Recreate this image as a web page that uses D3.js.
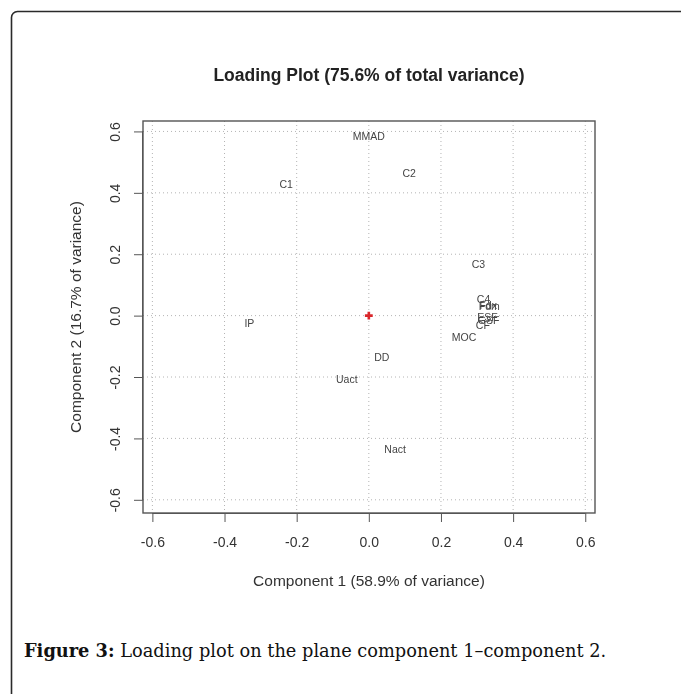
<!DOCTYPE html>
<html><head><meta charset="utf-8">
<script src="https://cdn.jsdelivr.net/npm/d3@7"></script>
<style>body{margin:0;background:#fff}svg{display:block}</style>
</head><body>
<script>
// Variable loadings on the first two principal components
const variables = ["MMAD", "C2", "C1", "C3", "C4", "Fdx", "Fdm", "ESF", "GSF", "CF", "MOC", "IP", "DD", "Uact", "Nact"];
const comp1 = [0.000, 0.112, -0.229, 0.304, 0.318, 0.331, 0.334, 0.329, 0.332, 0.316, 0.264, -0.331, 0.036, -0.061, 0.073];
const comp2 = [0.585, 0.466, 0.430, 0.168, 0.054, 0.036, 0.030, -0.004, -0.014, -0.031, -0.070, -0.025, -0.135, -0.206, -0.435];
const origin = [0, 0];
const xTicks = [-0.6, -0.4, -0.2, 0.0, 0.2, 0.4, 0.6];
const yTicks = [-0.6, -0.4, -0.2, 0.0, 0.2, 0.4, 0.6];
const titleText = "Loading Plot (75.6% of total variance)";
const xTitle = "Component 1 (58.9% of variance)";
const yTitle = "Component 2 (16.7% of variance)";

const W = 681, H = 694;
const frame = {left: 143, right: 595, top: 121, bottom: 513};

const svg = d3.select("body").append("svg").attr("width", W).attr("height", H);

// page panel with rounded corner
svg.append("rect")
  .attr("x", 11.5).attr("y", 11.5).attr("width", 720).attr("height", 720)
  .attr("rx", 6).attr("fill", "#fff").attr("stroke", "#2a2a2a").attr("stroke-width", 1.6);

const defs = svg.append("defs");
defs.append("filter").attr("id", "soft")
  .append("feGaussianBlur").attr("stdDeviation", 0.45);

const x = d3.scaleLinear().domain([-0.626, 0.627]).range([frame.left, frame.right]);
const y = d3.scaleLinear().domain([-0.643, 0.634]).range([frame.bottom, frame.top]);

const g = svg.append("g").attr("filter", "url(#soft)");
const fmt = d => d.toFixed(1);
const sans = "Liberation Sans, Arial, sans-serif";

// dotted grid
g.append("g").selectAll("line").data(xTicks).join("line")
  .attr("x1", d => x(d)).attr("x2", d => x(d))
  .attr("y1", frame.top).attr("y2", frame.bottom)
  .attr("stroke", "#b4b4b4").attr("stroke-width", 1).attr("stroke-dasharray", "1,3");
g.append("g").selectAll("line").data(yTicks).join("line")
  .attr("y1", d => y(d)).attr("y2", d => y(d))
  .attr("x1", frame.left).attr("x2", frame.right)
  .attr("stroke", "#b4b4b4").attr("stroke-width", 1).attr("stroke-dasharray", "1,3");

// frame
g.append("rect")
  .attr("x", frame.left).attr("y", frame.top)
  .attr("width", frame.right - frame.left).attr("height", frame.bottom - frame.top)
  .attr("fill", "none").attr("stroke", "#555").attr("stroke-width", 1.4);

// axes
const xAxis = d3.axisBottom(x).tickValues(xTicks).tickFormat(fmt).tickSize(9).tickPadding(15);
const yAxis = d3.axisLeft(y).tickValues(yTicks).tickFormat(fmt).tickSize(9).tickPadding(10);

const gx = g.append("g").attr("transform", `translate(0,${frame.bottom})`).call(xAxis);
gx.select(".domain").attr("d", `M${x(-0.6)},0.5H${x(0.6)}`).attr("stroke", "#555");
gx.selectAll(".tick line").attr("stroke", "#555");
gx.selectAll("text").attr("font-family", sans).attr("font-size", 14).attr("fill", "#333");

const gy = g.append("g").attr("transform", `translate(${frame.left},0)`).call(yAxis);
gy.select(".domain").attr("d", `M-0.5,${y(-0.6)}V${y(0.6)}`).attr("stroke", "#555");
gy.selectAll(".tick line").attr("stroke", "#555");
gy.selectAll("text")
  .attr("font-family", sans).attr("font-size", 14).attr("fill", "#333")
  .attr("text-anchor", "middle").attr("dy", null).attr("x", null)
  .attr("transform", "translate(-28,0) rotate(-90)")
  .attr("dominant-baseline", "central");

// titles
g.append("text").attr("x", 369).attr("y", 81).attr("text-anchor", "middle")
  .attr("font-family", sans).attr("font-weight", "bold").attr("font-size", 17.5).attr("fill", "#222")
  .text(titleText);
g.append("text").attr("x", 369).attr("y", 586).attr("text-anchor", "middle")
  .attr("font-family", sans).attr("font-size", 15.5).attr("fill", "#333")
  .text(xTitle);
g.append("text").attr("transform", `translate(75,${(frame.top + frame.bottom) / 2}) rotate(-90)`)
  .attr("text-anchor", "middle").attr("dominant-baseline", "central")
  .attr("font-family", sans).attr("font-size", 15.5).attr("fill", "#333")
  .text(yTitle);

// variable labels
g.append("g").selectAll("text").data(variables).join("text")
  .attr("x", (d, i) => x(comp1[i])).attr("y", (d, i) => y(comp2[i]))
  .attr("text-anchor", "middle").attr("dominant-baseline", "central")
  .attr("font-family", sans).attr("font-size", 10.5).attr("fill", "#444")
  .text(d => d);

// origin marker
const sym = d3.symbol().type(d3.symbolCross).size(34);
g.append("path").attr("d", sym())
  .attr("transform", `translate(${x(origin[0])},${y(origin[1])})`)
  .attr("fill", "#d9262b");

// caption
const cap = svg.append("text").attr("x", 24).attr("y", 657)
  .attr("font-family", "DejaVu Serif, Liberation Serif, serif").attr("font-size", 17.8).attr("fill", "#111");
cap.append("tspan").attr("font-weight", "bold").text("Figure 3:");
cap.append("tspan").text(" Loading plot on the plane component 1\u2013component 2.");
</script>
</body></html>
